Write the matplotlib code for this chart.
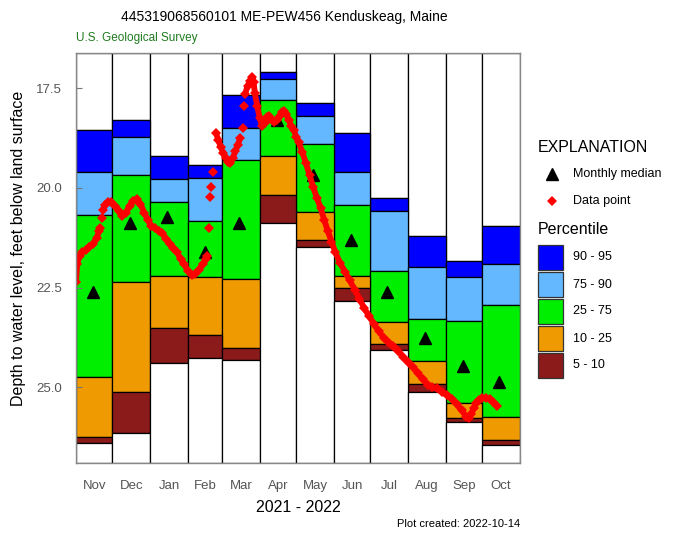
import numpy as np
import matplotlib
matplotlib.use("Agg")
import matplotlib.pyplot as plt
import matplotlib.dates as mdates
from matplotlib.patches import Rectangle
from matplotlib.lines import Line2D

plt.rcParams["font.family"] = ["Liberation Sans", "DejaVu Sans"]

# --- data -------------------------------------------------------------
months = ["Nov", "Dec", "Jan", "Feb", "Mar", "Apr",
          "May", "Jun", "Jul", "Aug", "Sep", "Oct"]
month_starts = ["2021-11-01", "2021-12-01", "2022-01-01", "2022-02-01",
                "2022-03-01", "2022-04-01", "2022-05-01", "2022-06-01",
                "2022-07-01", "2022-08-01", "2022-09-01", "2022-10-01",
                "2022-11-01"]

# percentile boundaries, feet below land surface
p95 = [18.55, 18.30, 19.20, 19.42, 17.68, 17.09, 17.87, 18.62, 20.26, 21.21, 21.83, 20.95]
p90 = [19.61, 18.72, 19.79, 19.76, 18.51, 17.28, 18.19, 19.60, 20.59, 21.98, 22.24, 21.92]
p75 = [20.69, 19.67, 20.35, 20.82, 19.31, 17.80, 18.91, 20.44, 22.08, 23.29, 23.34, 22.94]
p25 = [24.74, 22.37, 22.20, 22.24, 22.28, 19.20, 20.61, 22.21, 23.36, 24.33, 25.39, 25.74]
p10 = [26.25, 25.12, 23.52, 23.70, 24.01, 20.18, 21.31, 22.50, 23.92, 24.92, 25.78, 26.33]
p05 = [26.41, 26.14, 24.39, 24.27, 24.32, 20.89, 21.48, 22.85, 24.07, 25.13, 25.88, 26.44]
median = [22.60, 20.87, 20.73, 21.60, 20.89, 18.30, 19.68, 21.31, 22.60, 23.76, 24.48, 24.88]

# observed water levels (None = gap in record)
obs_dates = [
    "2021-11-01", "2021-11-02", "2021-11-04", "2021-11-06", "2021-11-09",
    "2021-11-12", "2021-11-15", "2021-11-18", "2021-11-20", "2021-11-21",
    None, "2021-11-22", None,
    "2021-11-23", "2021-11-25", "2021-11-27", "2021-11-30", "2021-12-03",
    "2021-12-06", "2021-12-09", "2021-12-12", "2021-12-15", "2021-12-18",
    "2021-12-21", "2021-12-24", "2021-12-27", "2021-12-30", "2022-01-02",
    "2022-01-05", "2022-01-08", "2022-01-11", "2022-01-14", "2022-01-17",
    "2022-01-20", "2022-01-23", "2022-01-26", "2022-01-29", "2022-02-01",
    "2022-02-04", "2022-02-07", "2022-02-10", "2022-02-13", "2022-02-16",
    "2022-02-17",
    None, "2022-02-18", None, "2022-02-19", None, "2022-02-20", None,
    "2022-02-22", None,
    "2022-02-24", "2022-02-26", "2022-02-28", "2022-03-02", "2022-03-04",
    "2022-03-06", "2022-03-08", "2022-03-10", "2022-03-12", "2022-03-14",
    "2022-03-16",
    None, "2022-03-18", None, "2022-03-19", None,
    "2022-03-20", "2022-03-22", "2022-03-24", "2022-03-26", "2022-03-27",
    "2022-03-28", "2022-03-30", "2022-04-01", "2022-04-03", "2022-04-05",
    "2022-04-07", "2022-04-09", "2022-04-11", "2022-04-13", "2022-04-15",
    "2022-04-17", "2022-04-19", "2022-04-21", "2022-04-23", "2022-04-25",
    "2022-04-27", "2022-04-29", "2022-05-01", "2022-05-03", "2022-05-06",
    "2022-05-09", "2022-05-12", "2022-05-15", "2022-05-18", "2022-05-21",
    "2022-05-24", "2022-05-27", "2022-05-30", "2022-06-02", "2022-06-06",
    "2022-06-10", "2022-06-14", "2022-06-18", "2022-06-22", "2022-06-26",
    "2022-06-30", "2022-07-04", "2022-07-08", "2022-07-12", "2022-07-16",
    "2022-07-20", "2022-07-24", "2022-07-28", "2022-08-01", "2022-08-05",
    "2022-08-09", "2022-08-13", "2022-08-17", "2022-08-21", "2022-08-25",
    "2022-08-29", "2022-09-02", "2022-09-06", "2022-09-10", "2022-09-14",
    "2022-09-18", "2022-09-20", "2022-09-22", "2022-09-24", "2022-09-26",
    "2022-09-28", "2022-10-01", "2022-10-04", "2022-10-07", "2022-10-10",
    "2022-10-13",
]
obs_depth = [
    22.35, 21.90, 21.70, 21.62, 21.55,
    21.48, 21.42, 21.25, 21.08, 21.00,
    None, 20.76, None,
    20.55, 20.42, 20.36, 20.35, 20.45,
    20.58, 20.70, 20.62, 20.45, 20.32,
    20.27, 20.40, 20.62, 20.80, 20.95,
    21.02, 21.08, 21.13, 21.28, 21.40,
    21.50, 21.62, 21.78, 21.92, 22.08,
    22.18, 22.15, 22.05, 21.92, 21.78,
    21.72,
    None, 21.02, None, 20.22, None, 19.97, None,
    19.61, None,
    18.62, 18.80, 18.98, 19.12, 19.25,
    19.35, 19.38, 19.25, 19.08, 18.92,
    18.75,
    None, 18.51, None, 17.94, None,
    17.65, 17.45, 17.32, 17.22, 17.35,
    17.62, 17.95, 18.25, 18.45, 18.38,
    18.22, 18.20, 18.30, 18.35, 18.30,
    18.22, 18.10, 18.07, 18.15, 18.30,
    18.45, 18.55, 18.72, 18.85, 19.10,
    19.38, 19.68, 19.98, 20.25, 20.50,
    20.80, 21.08, 21.35, 21.60, 21.88,
    22.10, 22.32, 22.55, 22.78, 23.02,
    23.22, 23.42, 23.60, 23.76, 23.88,
    23.96, 24.10, 24.24, 24.38, 24.50,
    24.65, 24.80, 24.94, 25.00, 25.03,
    25.12, 25.20, 25.30, 25.43, 25.58,
    25.74, 25.76, 25.68, 25.52, 25.40,
    25.32, 25.27, 25.26, 25.30, 25.36,
    25.47,
]

band_colors = ["#0000FF", "#63B8FF", "#00EE00", "#EE9A00", "#8B1A1A"]
band_labels = ["90 - 95", "75 - 90", "25 - 75", "10 - 25", "5 - 10"]

y_top, y_bottom = 16.62, 26.9

# --- figure -----------------------------------------------------------
fig = plt.figure(figsize=(6.74, 5.33), dpi=100)
ax = fig.add_axes([76 / 674, 1 - 463 / 533, 444 / 674, 410 / 533])

starts = mdates.datestr2num(month_starts)
lefts = starts[:-1]
widths = np.diff(starts)

bounds = [np.full(12, y_top), p95, p90, p75, p25, p10, p05, np.full(12, y_bottom)]
colors = ["white"] + band_colors + ["white"]
for lo, hi, c in zip(bounds[:-1], bounds[1:], colors):
    lo = np.asarray(lo)
    hi = np.asarray(hi)
    ax.bar(lefts, hi - lo, width=widths, bottom=lo, align="edge",
           color=c, edgecolor="black", linewidth=0.9, zorder=1)

mids = lefts + 14
ax.plot(mids, median, linestyle="none", marker="^", color="black",
        markersize=9, zorder=3)

xd = np.array([mdates.datestr2num(d) if d else np.nan for d in obs_dates])
yd = np.array([v if v is not None else np.nan for v in obs_depth], dtype=float)
ax.plot(xd, yd, color="#FF0000", linewidth=4.2, marker="D", markersize=5,
        markeredgewidth=0, solid_capstyle="round", zorder=4)

ax.set_xlim(starts[0], starts[-1])
ax.set_ylim(y_bottom, y_top)
ax.set_yticks([17.5, 20.0, 22.5, 25.0])
ax.set_yticklabels(["17.5", "20.0", "22.5", "25.0"])
ax.set_xticks(lefts + widths / 2)
ax.set_xticklabels(months)
ax.tick_params(axis="x", length=0, pad=12, labelsize=9.5, labelcolor="#555555")
ax.tick_params(axis="y", direction="in", length=4, color="#777777",
               pad=10, labelsize=9.5, labelcolor="#555555")
for s in ax.spines.values():
    s.set_color("#888888")
    s.set_linewidth(1.0)
    s.set_zorder(5)

# --- text -------------------------------------------------------------
fig.text(284 / 674, 1 - 17 / 533, "445319068560101 ME-PEW456 Kenduskeag, Maine",
         ha="center", va="center", fontsize=10)
fig.text(76 / 674, 1 - 38 / 533, "U.S. Geological Survey", ha="left",
         va="center", fontsize=8.5, color="#1E7B1E")
fig.text(19 / 674, 1 - 248 / 533, "Depth to water level, feet below land surface",
         rotation=90, ha="center", va="center", fontsize=11.5)
fig.text(298 / 674, 1 - 507 / 533, "2021 - 2022", ha="center", va="center",
         fontsize=11.5)
fig.text(520 / 674, 1 - 524 / 533, "Plot created: 2022-10-14", ha="right",
         va="center", fontsize=8)

# --- legend (explanation) ---------------------------------------------
lg = fig.add_axes([0, 0, 1, 1])
lg.set_xlim(0, 674)
lg.set_ylim(533, 0)
lg.axis("off")
lg.patch.set_alpha(0)

lg.text(538, 148, "EXPLANATION", ha="left", va="center", fontsize=11.5)
lg.add_line(Line2D([552], [174], marker="^", color="black", markersize=8,
                   linestyle="none"))
lg.text(573, 174, "Monthly median", ha="left", va="center", fontsize=9)
lg.add_line(Line2D([552], [201], marker="D", color="#FF0000", markersize=5,
                   markeredgewidth=0, linestyle="none"))
lg.text(573, 201, "Data point", ha="left", va="center", fontsize=9)
lg.text(538, 230, "Percentile", ha="left", va="center", fontsize=11.5)

for i, (c, lab) in enumerate(zip(band_colors, band_labels)):
    top = 245 + i * 27
    lg.add_patch(Rectangle((538, top), 25, 25, facecolor=c,
                           edgecolor="#333333", linewidth=0.9))
    lg.text(573, top + 12.5, lab, ha="left", va="center", fontsize=9)

fig.savefig("out.png", dpi=100)
